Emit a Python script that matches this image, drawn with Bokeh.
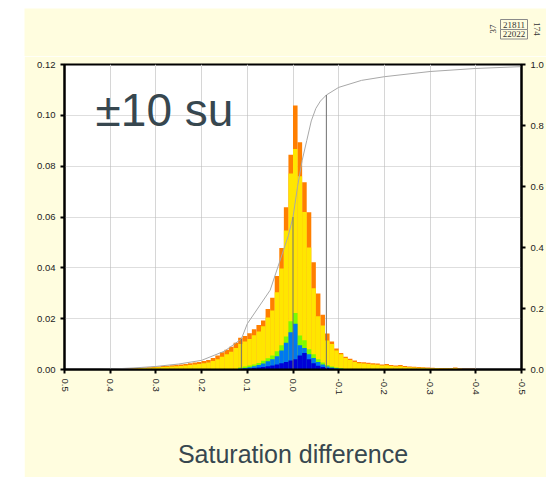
import numpy as np
from bokeh.plotting import figure
from bokeh.models import Range1d, LinearAxis, FixedTicker, PrintfTickFormatter, Label, Spacer
from bokeh.layouts import row, column
from bokeh.embed import file_html
from bokeh.resources import INLINE

# ---- data ----
# histogram bins: upper edge of each 0.01-wide bin (x axis runs from 0.5 down to -0.5)
bin_upper = [round(v / 100.0, 2) for v in range(39, -50, -1)]

orange = [0.0002, 0.0002, 0.0003, 0.0004, 0.0005, 0.0006, 0.0008, 0.0009, 0.0011,
          0.0012, 0.0014, 0.0015, 0.0017, 0.0019, 0.0020, 0.0022, 0.0025, 0.0028,
          0.0030, 0.0033, 0.0037, 0.0045, 0.0055, 0.0068, 0.0078, 0.0090, 0.0105,
          0.0125, 0.0132, 0.0143, 0.0158, 0.0175, 0.0193, 0.0238, 0.0282, 0.0368,
          0.0478, 0.0638, 0.0845, 0.1039, 0.0894, 0.0737, 0.0619, 0.0422, 0.0299,
          0.0215, 0.0142, 0.0110, 0.0083, 0.0065, 0.0050, 0.0042, 0.0035, 0.0030,
          0.0029, 0.0027, 0.0025, 0.0024, 0.0020, 0.0022, 0.0018, 0.0016, 0.0018,
          0.0014, 0.0012, 0.0011, 0.0010, 0.0009, 0.0008, 0.0007, 0.0006, 0.0006,
          0.0005, 0.0005, 0.0008, 0.0004, 0.0003, 0.0003, 0.0003, 0.0002, 0.0002,
          0.0002, 0.0002, 0.0002, 0.0001, 0.0002, 0.0001, 0.0001, 0.0001]
yellow = [0.0001, 0.0001, 0.0002, 0.0003, 0.0004, 0.0005, 0.0006, 0.0007, 0.0008,
          0.0009, 0.0010, 0.0011, 0.0012, 0.0013, 0.0014, 0.0016, 0.0018, 0.0020,
          0.0022, 0.0025, 0.0028, 0.0033, 0.0040, 0.0050, 0.0060, 0.0070, 0.0085,
          0.0100, 0.0110, 0.0120, 0.0135, 0.0150, 0.0170, 0.0205, 0.0232, 0.0304,
          0.0397, 0.0547, 0.0771, 0.0868, 0.0760, 0.0620, 0.0480, 0.0320, 0.0210,
          0.0173, 0.0114, 0.0100, 0.0075, 0.0060, 0.0045, 0.0037, 0.0030, 0.0025,
          0.0024, 0.0022, 0.0020, 0.0019, 0.0016, 0.0017, 0.0014, 0.0012, 0.0013,
          0.0010, 0.0009, 0.0008, 0.0007, 0.0007, 0.0006, 0.0005, 0.0005, 0.0004,
          0.0004, 0.0004, 0.0005, 0.0003, 0.0002, 0.0002, 0.0002, 0.0002, 0.0001,
          0.0001, 0.0001, 0.0001, 0.0001, 0.0001, 0.0001, 0.0001, 0.0001]
green_upper = [0.12, 0.11, 0.10, 0.09, 0.08, 0.07, 0.06, 0.05, 0.04, 0.03, 0.02, 0.01,
               0.00, -0.01, -0.02, -0.03, -0.04, -0.05, -0.06, -0.07, -0.08, -0.09, -0.10]
green = [0.0008, 0.0012, 0.0016, 0.0020, 0.0026, 0.0034, 0.0044, 0.0055, 0.0072,
         0.0095, 0.0130, 0.0190, 0.0222, 0.0134, 0.0115, 0.0080, 0.0060, 0.0040,
         0.0028, 0.0018, 0.0012, 0.0008, 0.0005]
blue = [0.0004, 0.0006, 0.0009, 0.0013, 0.0018, 0.0024, 0.0032, 0.0040, 0.0052,
        0.0075, 0.0105, 0.0147, 0.0180, 0.0095, 0.0085, 0.0060, 0.0045, 0.0030,
        0.0020, 0.0012, 0.0008, 0.0005, 0.0003]
navy = [0.0002, 0.0003, 0.0004, 0.0006, 0.0008, 0.0010, 0.0013, 0.0016, 0.0020,
        0.0025, 0.0030, 0.0035, 0.0040, 0.0055, 0.0065, 0.0040, 0.0025, 0.0015,
        0.0010, 0.0006, 0.0004, 0.0002, 0.0001]

# cumulative fraction (right axis)
cum_x = [0.42, 0.35, 0.30, 0.25, 0.20, 0.15, 0.113, 0.10, 0.05, 0.03, 0.01, 0.0,
         -0.01, -0.02, -0.03, -0.04, -0.05, -0.06, -0.073, -0.10, -0.15, -0.20,
         -0.30, -0.40, -0.50]
cum_y = [0.0, 0.005, 0.01, 0.018, 0.03, 0.06, 0.10, 0.15, 0.26, 0.35, 0.44, 0.50,
         0.60, 0.685, 0.75, 0.815, 0.856, 0.88, 0.90, 0.925, 0.948, 0.96, 0.977,
         0.987, 0.993]

# percentile markers (10%, 50%, 90%)
pct_x = [0.113, 0.0, -0.073]
pct_y = [0.10, 0.50, 0.90]

x_ticks = [0.5, 0.4, 0.3, 0.2, 0.1, 0.0, -0.1, -0.2, -0.3, -0.4, -0.5]
y_ticks = [0.0, 0.02, 0.04, 0.06, 0.08, 0.10, 0.12]
cum_ticks = [0.0, 0.2, 0.4, 0.6, 0.8, 1.0]

# count box (top right)
box_counts = ["21811", "22022"]
side_counts = ["37", "174"]

BG = "#FFFDDF"
TXT = "#37474F"
W = 522

# ---- top strip with count box (coordinates: pixels, y measured upward) ----
top = figure(width=W, height=48, output_backend="svg", toolbar_location=None,
             x_range=Range1d(24, 546), y_range=Range1d(0, 48),
             min_border=0, x_axis_location=None, y_axis_location=None)
top.border_fill_color = BG
top.background_fill_color = BG
top.outline_line_color = None
top.grid.visible = False
top.quad(left=[500, 500], right=[527, 527], top=[37, 27], bottom=[27, 17.5],
         fill_color=BG, line_color="#8A8A8A", line_width=1)
top.text(x=[513.5, 513.5], y=[32, 22.2], text=box_counts, text_font_size="9px",
         text_font="Liberation Sans", text_color="#333333", text_align="center",
         text_baseline="middle")
top.text(x=[492], y=[27.5], text=[side_counts[0]], angle=np.pi / 2, text_font_size="9px",
         text_font="Liberation Sans", text_color="#333333", text_align="center",
         text_baseline="middle")
top.text(x=[536], y=[27.5], text=[side_counts[1]], angle=-np.pi / 2, text_font_size="9px",
         text_font="Liberation Sans", text_color="#333333", text_align="center",
         text_baseline="middle")

# ---- main chart ----
p = figure(width=W, height=421, output_backend="svg", toolbar_location=None,
           x_range=Range1d(0.5, -0.5), y_range=Range1d(0, 0.12),
           min_border_left=40, min_border_right=22, min_border_top=8,
           min_border_bottom=108)
p.extra_y_ranges = {"cum": Range1d(0, 1.0)}
p.border_fill_color = BG
p.background_fill_color = "white"
p.outline_line_color = "black"
p.outline_line_width = 2

p.xgrid.ticker = FixedTicker(ticks=x_ticks)
p.xgrid.grid_line_color = "#D6D6D6"
p.ygrid.ticker = FixedTicker(ticks=y_ticks)
p.ygrid.grid_line_color = "#BDBDBD"
p.ygrid.grid_line_dash = "1 1"

bu = np.array(bin_upper)
p.quad(left=bu, right=bu - 0.01, bottom=0, top=orange, fill_color="#FF7F00", line_color=None)
p.quad(left=bu, right=bu - 0.01, bottom=0, top=yellow, fill_color="#FFE600", line_color=None)
gu = np.array(green_upper)
p.quad(left=gu, right=gu - 0.01, bottom=0, top=green, fill_color="#7CFC00", line_color=None)
p.quad(left=gu, right=gu - 0.01, bottom=0, top=blue, fill_color="#0078F0", line_color=None)
p.quad(left=gu, right=gu - 0.01, bottom=0, top=navy, fill_color="#0000D8", line_color=None)

p.line(cum_x, cum_y, y_range_name="cum", line_color="#A8A8A8", line_width=1)
p.segment(x0=pct_x, y0=[0, 0, 0], x1=pct_x, y1=pct_y, y_range_name="cum",
          line_color="#707070", line_width=1)

def style_axis(ax):
    ax.axis_line_color = "black"
    ax.axis_line_width = 2
    ax.major_tick_line_color = "black"
    ax.major_tick_line_width = 2
    ax.major_tick_out = 4
    ax.major_tick_in = 0
    ax.minor_tick_line_color = None
    ax.major_label_text_font = "Liberation Sans"
    ax.major_label_text_font_size = "9.5px"
    ax.major_label_text_color = "#222222"

p.xaxis.ticker = FixedTicker(ticks=x_ticks)
p.xaxis.formatter = PrintfTickFormatter(format="%.1f")
p.xaxis.major_label_orientation = -np.pi / 2
style_axis(p.xaxis[0])
p.xaxis.axis_label = "Saturation difference"
p.xaxis.axis_label_text_font = "Liberation Sans"
p.xaxis.axis_label_text_font_size = "25px"
p.xaxis.axis_label_text_font_style = "normal"
p.xaxis.axis_label_text_color = TXT
p.xaxis.axis_label_standoff = 42

p.yaxis.ticker = FixedTicker(ticks=y_ticks)
p.yaxis.formatter = PrintfTickFormatter(format="%.2f")
style_axis(p.yaxis[0])

ax_r = LinearAxis(y_range_name="cum", ticker=FixedTicker(ticks=cum_ticks),
                  formatter=PrintfTickFormatter(format="%.1f"))
style_axis(ax_r)
p.add_layout(ax_r, "right")

p.add_layout(Label(x=0.432, y=0.1022, text="±10 su", text_font="Liberation Sans",
                   text_font_size="46px", text_color=TXT, text_baseline="alphabetic"))

layout = column(Spacer(width=546, height=8),
                row(Spacer(width=24, height=48), top),
                row(Spacer(width=24, height=421), p),
                spacing=0)
open("out.html", "w").write(file_html(layout, INLINE))
